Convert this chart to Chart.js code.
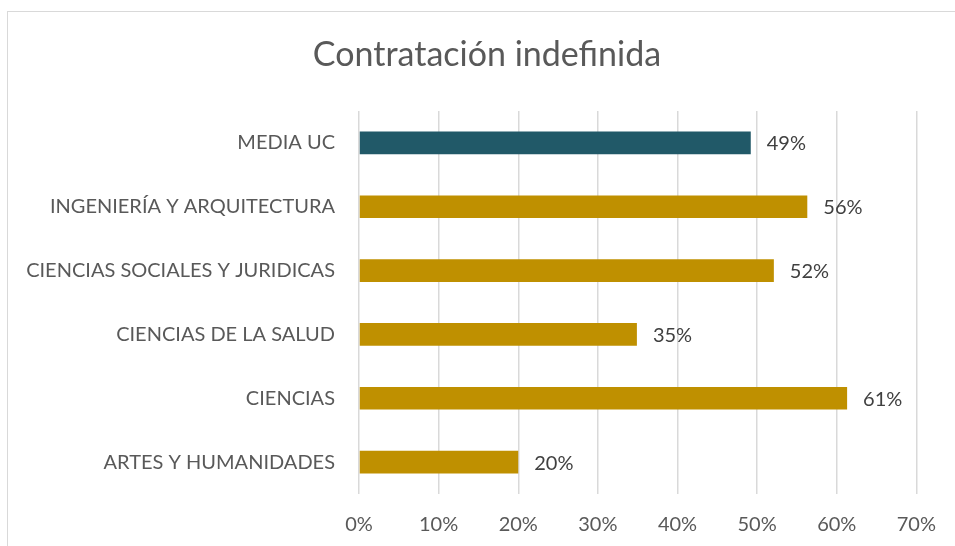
<!DOCTYPE html>
<html>
<head>
<meta charset="utf-8">
<script src="https://cdn.jsdelivr.net/npm/chart.js@4"></script>
<style>
    html, body { margin: 0; padding: 0; background: #fff; overflow: hidden; }
    #frame {
        position: absolute; left: 7px; top: 11px;
        width: 1000px; height: 600px;
        border: 1.5px solid #d9d9d9;
    }
    #wrap { position: absolute; left: 0; top: 0; width: 955px; height: 546px; }
</style>
</head>
<body>
<div id="frame"></div>
<div id="wrap"><canvas id="chart"></canvas></div>
<script>
const title = "Contratación indefinida";
const categories = [
    "MEDIA UC",
    "INGENIERÍA Y ARQUITECTURA",
    "CIENCIAS SOCIALES Y JURIDICAS",
    "CIENCIAS DE LA SALUD",
    "CIENCIAS",
    "ARTES Y HUMANIDADES"
];
const values = [49.2, 56.3, 52.1, 34.9, 61.3, 20.0];
const barColors = ["#215968", "#BF9000", "#BF9000", "#BF9000", "#BF9000", "#BF9000"];
const xTicks = [0, 10, 20, 30, 40, 50, 60, 70];

const FONT = "Lato, 'Open Sans', sans-serif";

// value labels next to each bar + title (the chart box is wider than the window)
const extras = {
    id: "extras",
    afterDatasetsDraw(chart) {
        const ctx = chart.ctx;
        const meta = chart.getDatasetMeta(0);
        ctx.save();
        ctx.font = "20px " + FONT;
        ctx.fillStyle = "#404040";
        ctx.textAlign = "left";
        ctx.textBaseline = "middle";
        meta.data.forEach((bar, i) => {
            ctx.fillText(Math.round(values[i]) + "%", bar.x + 16, bar.y + 1);
        });

        ctx.font = "34px " + FONT;
        ctx.fillStyle = "#595959";
        ctx.textAlign = "center";
        ctx.fillText(title, 487, 55);
        ctx.restore();
    }
};

new Chart(document.getElementById("chart"), {
    type: "bar",
    data: {
        labels: categories,
        datasets: [{
            data: values,
            backgroundColor: barColors,
            barPercentage: 0.355,
            categoryPercentage: 1
        }]
    },
    options: {
        indexAxis: "y",
        responsive: true,
        maintainAspectRatio: false,
        animation: false,
        layout: { padding: { left: 19, right: 37, top: 111, bottom: 0 } },
        plugins: {
            legend: { display: false },
            tooltip: { enabled: false },
            title: { display: false }
        },
        scales: {
            x: {
                min: 0,
                max: 70,
                afterBuildTicks(scale) {
                    scale.ticks = xTicks.map(v => ({ value: v }));
                },
                afterFit(scale) { scale.height = 52; },
                grid: { color: "#d9d9d9", lineWidth: 1.5, drawTicks: false },
                border: { display: false },
                ticks: {
                    color: "#595959",
                    font: { family: FONT, size: 20 },
                    padding: 19,
                    callback: v => v + "%"
                }
            },
            y: {
                grid: { display: false, drawTicks: false },
                border: { display: false },
                afterFit(scale) { scale.width = 340; },
                ticks: {
                    color: "#595959",
                    font: { family: FONT, size: 20 },
                    padding: 24
                }
            }
        }
    },
    plugins: [extras]
});
</script>
</body>
</html>
